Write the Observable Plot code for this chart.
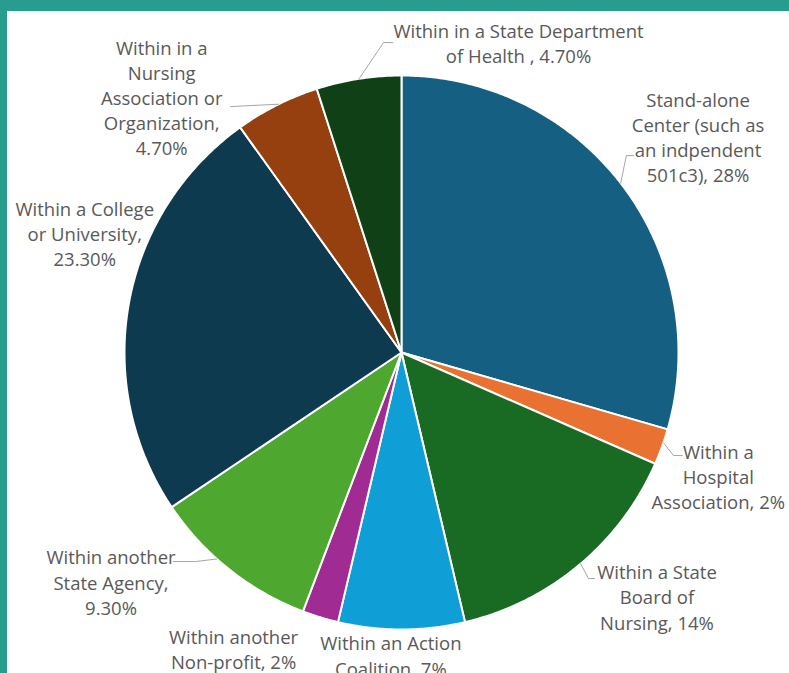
<!DOCTYPE html>
<html><head><meta charset="utf-8">
<script src="https://cdn.jsdelivr.net/npm/d3@7"></script>
<script src="https://cdn.jsdelivr.net/npm/@observablehq/plot@0.6"></script>
<style>
html,body{margin:0;padding:0;background:#289d8d;width:789px;height:673px;overflow:hidden;}
#frame{position:absolute;left:7px;top:11px;width:782px;height:662px;background:#fff;overflow:hidden;}
</style></head><body><div id="frame"></div><script>
// Data (slices clockwise from 12 o'clock)
const categories = [
  "Stand-alone Center (such as an indpendent 501c3)",
  "Within a Hospital Association",
  "Within a State Board of Nursing",
  "Within an Action Coalition",
  "Within another Non-profit",
  "Within another State Agency",
  "Within a College or University",
  "Within in a Nursing Association or Organization",
  "Within in a State Department of Health"
];
const values = [28, 2, 14, 7, 2, 9.3, 23.3, 4.7, 4.7];
const labelTexts = [
  "Stand-alone\nCenter (such as\nan indpendent\n501c3), 28%",
  "Within a\nHospital\nAssociation, 2%",
  "Within a State\nBoard of\nNursing, 14%",
  "Within an Action\nCoalition, 7%",
  "Within another\nNon-profit, 2%",
  "Within another\nState Agency,\n9.30%",
  "Within a College\nor University,\n23.30%",
  "Within in a\nNursing\nAssociation or\nOrganization,\n4.70%",
  "Within in a State Department\nof Health , 4.70%"
];
const colors = ["#156082", "#E97132", "#196B24", "#0F9ED5", "#A02B93", "#4EA72E", "#0D3A4E", "#96400F", "#0F4016"];

// Layout: label anchors and leader lines in polar form [angle° clockwise from top, radius in pie radii]
const labelPolar = [[54.2,1.32],[111.6,1.23],[133.9,1.28],[182,1.10],[209.4,1.235],[231.5,1.34],[290.4,1.22],[316.6,1.26],[20.8,1.19]];
const leaderPolar = [
  [[52.3,1.0],[48.8,1.079],[49.7,1.099]],
  [[109.0,1.0],[110.75,1.05],[110.15,1.08]],
  [[139.7,1.0],[140.4,1.059],[139.5,1.073]],
  null,
  null,
  [[221.8,1.0],[224.6,1.06],[227.5,1.117]],
  null,
  [[333.7,1.0],[325.2,1.081]],
  [[351.2,1.0],[356.7,1.121],[358.4,1.119]]
];

const total = d3.sum(values);
const cum = Array.from(d3.cumsum(values));
const rad = d => d * Math.PI / 180;
const polar = (deg, r) => ({x: r * Math.sin(rad(deg)), y: r * Math.cos(rad(deg))});

const slicePts = [];
values.forEach((v, i) => {
  const a0 = (cum[i] - v) / total * 360, a1 = cum[i] / total * 360;
  slicePts.push({k: i, x: 0, y: 0, c: colors[i]});
  const n = Math.max(2, Math.ceil((a1 - a0) / 0.5));
  for (let j = 0; j <= n; j++) {
    const p = polar(a0 + (a1 - a0) * j / n, 1);
    slicePts.push({k: i, x: p.x, y: p.y, c: colors[i]});
  }
  slicePts.push({k: i, x: 0, y: 0, c: colors[i]});
});

const labelData = labelTexts.map((t, i) => ({t, ...polar(labelPolar[i][0], labelPolar[i][1])}));
const leaderPts = [];
leaderPolar.forEach((L, i) => { if (L) L.forEach(([a, r]) => leaderPts.push({k: i, ...polar(a, r)})); });

const cx = 401 - 7, cy = 352 - 11, R = 277;
const chart = Plot.plot({
  width: 782, height: 662, margin: 0,
  x: {domain: [-1, 1], range: [cx - R, cx + R], axis: null},
  y: {domain: [-1, 1], range: [cy + R, cy - R], axis: null},
  color: {type: "identity"},
  style: {background: "white", fontFamily: "'Open Sans', sans-serif"},
  marks: [
    Plot.line(slicePts, {x: "x", y: "y", z: "k", fill: "c", stroke: "white", strokeWidth: 2, strokeLinejoin: "round", curve: "linear"}),
    Plot.line(leaderPts, {x: "x", y: "y", z: "k", stroke: "#a6a6a6", strokeWidth: 1}),
    Plot.text(labelData, {x: "x", y: "y", text: "t", fontSize: 18.5, lineHeight: 1.36, dy: -2, fill: "#595959", textAnchor: "middle"})
  ]
});
document.getElementById("frame").appendChild(chart);
</script></body></html>
